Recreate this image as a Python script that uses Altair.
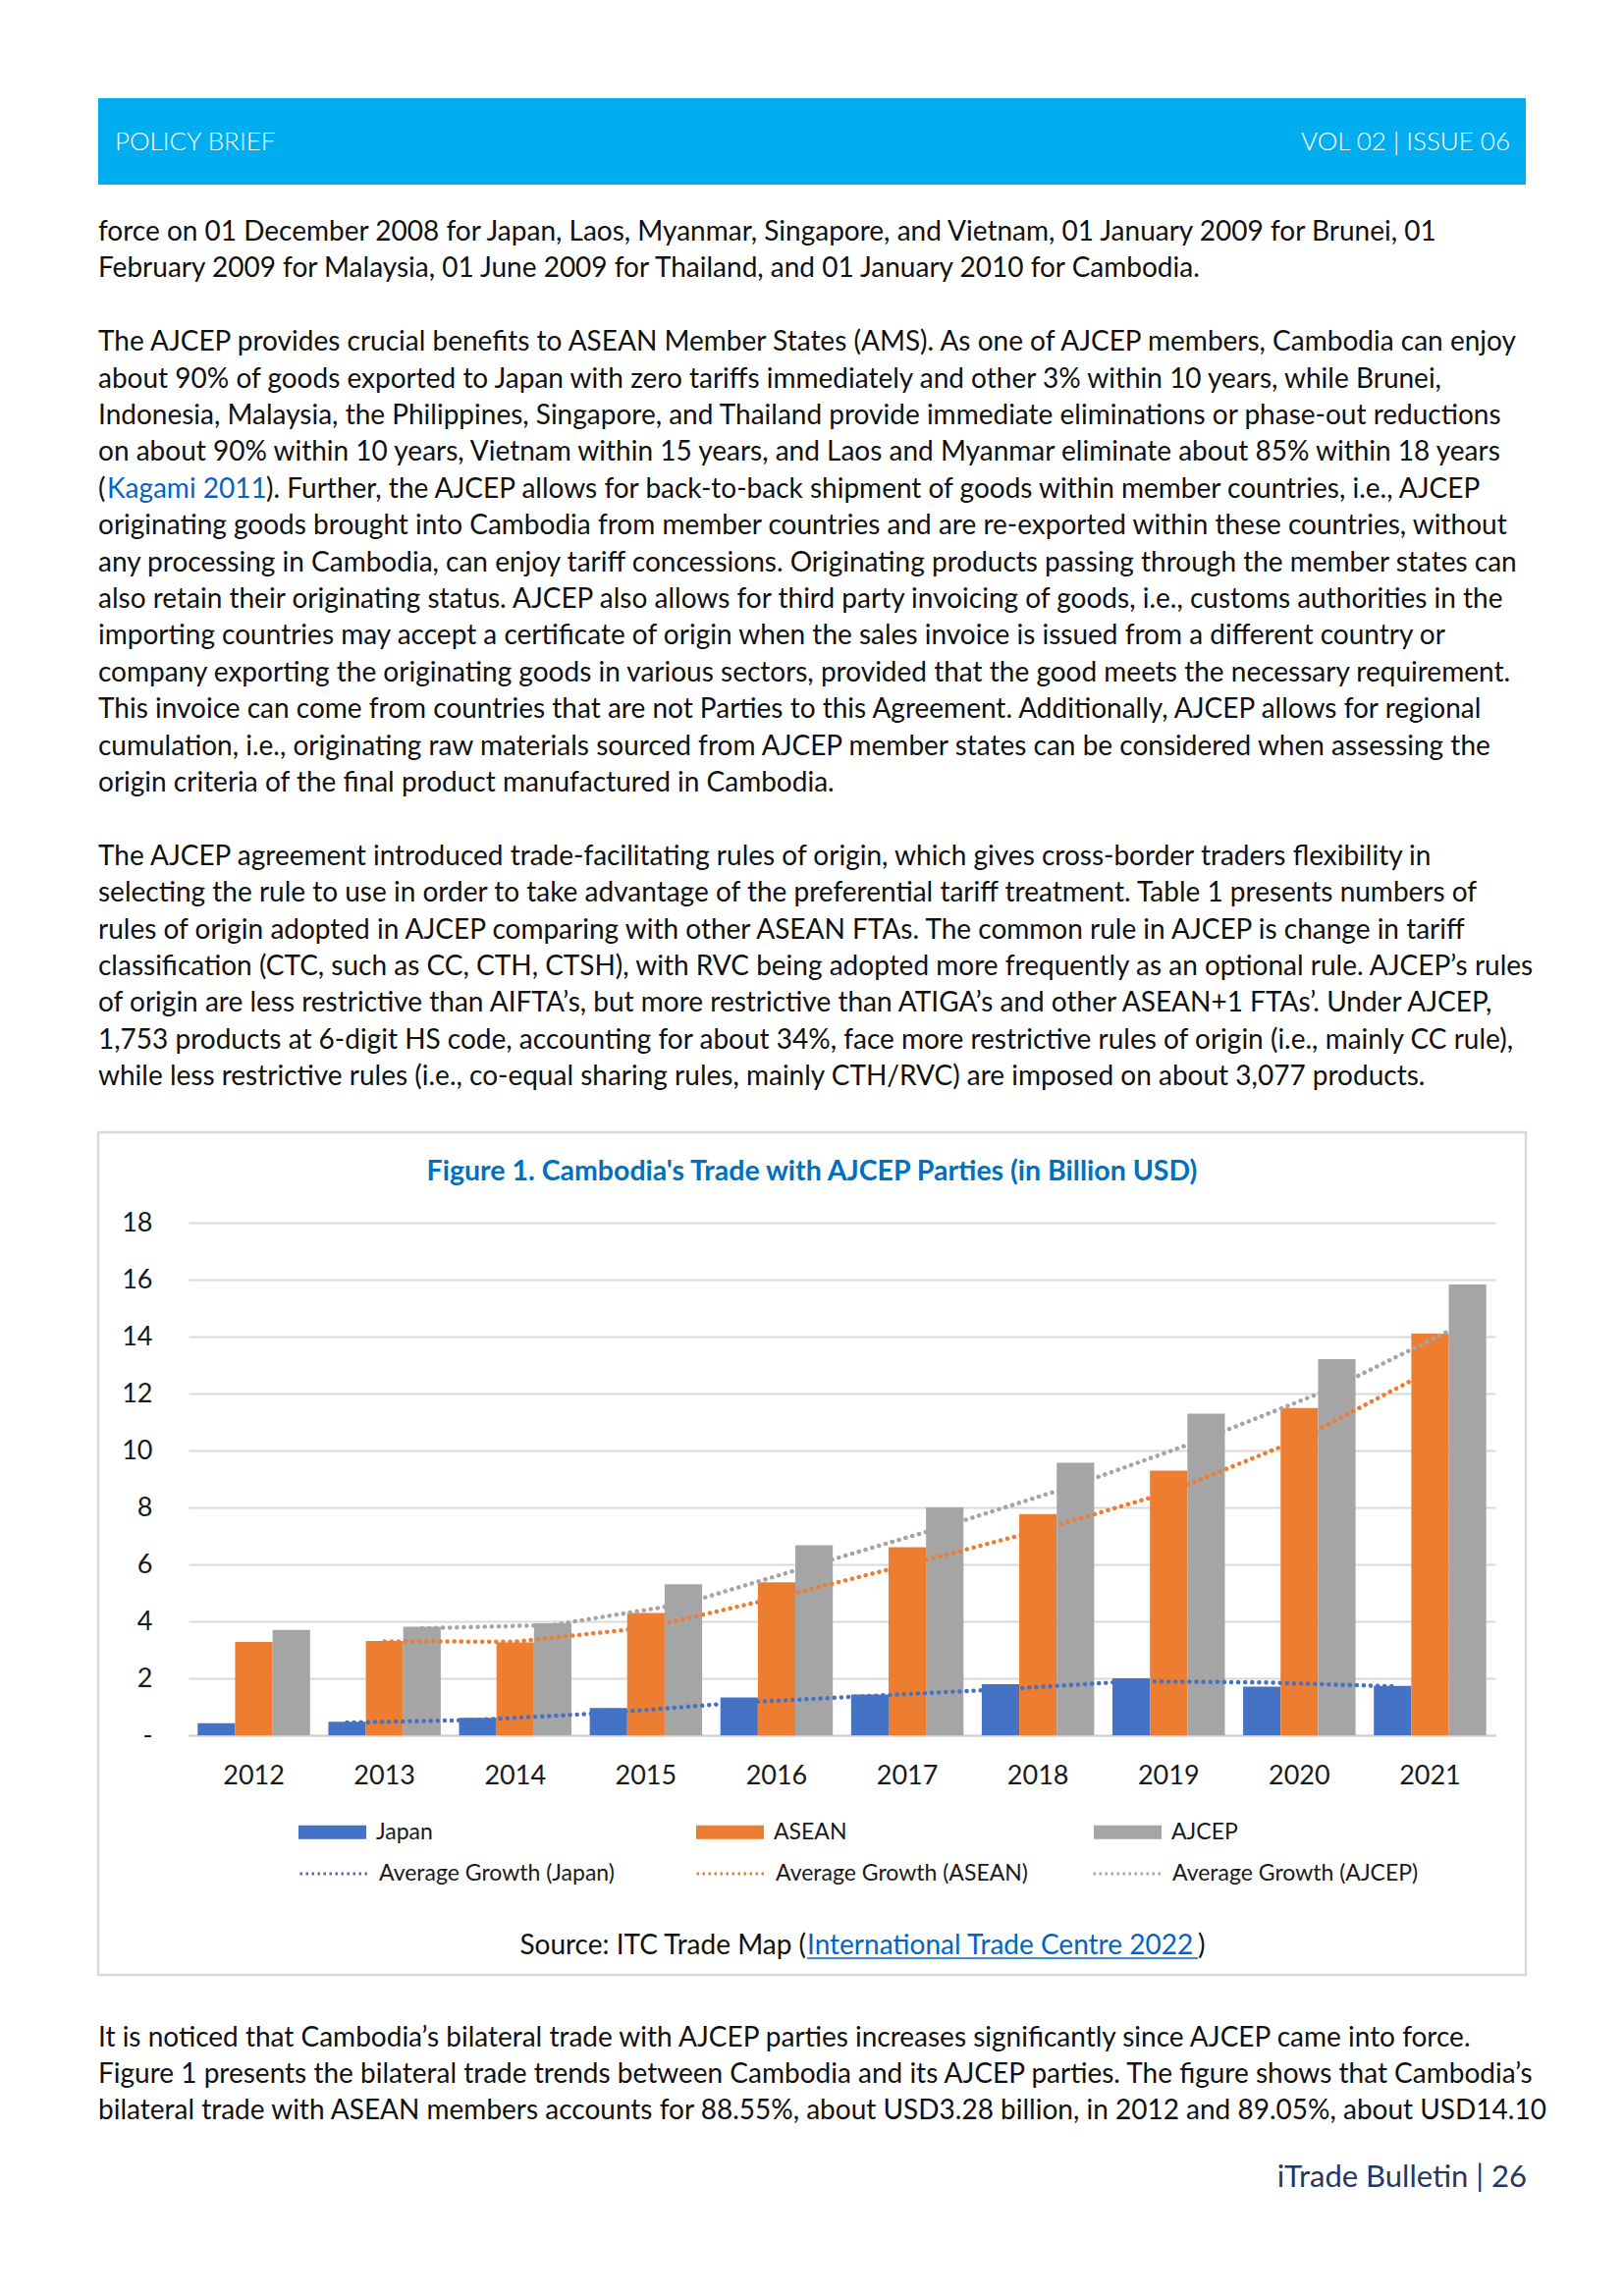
import altair as alt
import pandas as pd

# ---------------- chart data ----------------
years = ["2012", "2013", "2014", "2015", "2016", "2017", "2018", "2019", "2020", "2021"]
japan = [0.42, 0.47, 0.61, 0.96, 1.33, 1.43, 1.79, 2.00, 1.71, 1.73]
asean = [3.28, 3.31, 3.26, 4.29, 5.37, 6.60, 7.77, 9.29, 11.49, 14.10]
ajcep = [3.70, 3.81, 3.93, 5.30, 6.67, 8.00, 9.57, 11.29, 13.21, 15.83]
series_names = ["Japan", "ASEAN", "AJCEP"]
trend_names = ["Average Growth (Japan)", "Average Growth (ASEAN)", "Average Growth (AJCEP)"]
y_ticks = [0, 2, 4, 6, 8, 10, 12, 14, 16, 18]

# ---------------- page text ----------------
header_left = "POLICY BRIEF"
header_right = "VOL 02 | ISSUE 06"
chart_title = "Figure 1. Cambodia's Trade with AJCEP Parties (in Billion USD)"
source_prefix = "Source: ITC Trade Map  ("
source_link = "International Trade Centre 2022"
source_suffix = ")"
footer_text = "iTrade Bulletin | 26"

para1 = [
    "force on 01 December 2008 for Japan, Laos, Myanmar, Singapore, and Vietnam, 01 January 2009 for Brunei, 01",
    "February 2009 for Malaysia, 01 June 2009 for Thailand, and 01 January 2010 for Cambodia.",
]
para2 = [
    "The AJCEP provides crucial benefits to ASEAN Member States (AMS). As one of AJCEP members, Cambodia can enjoy",
    "about 90% of goods exported to Japan with zero tariffs immediately and other 3% within 10 years, while Brunei,",
    "Indonesia, Malaysia, the Philippines, Singapore, and Thailand provide immediate eliminations or phase-out reductions",
    "on about 90% within 10 years, Vietnam within 15 years, and Laos and Myanmar eliminate about 85% within 18 years",
    ["(", "Kagami 2011", "). Further, the AJCEP allows for back-to-back shipment of goods within member countries, i.e., AJCEP"],
    "originating goods brought into Cambodia from member countries and are re-exported within these countries, without",
    "any processing in Cambodia, can enjoy tariff concessions. Originating products passing through the member states can",
    "also retain their originating status. AJCEP also allows for third party invoicing of goods, i.e., customs authorities in the",
    "importing countries may accept a certificate of origin when the sales invoice is issued from a different country or",
    "company exporting the originating goods in various sectors, provided that the good meets the necessary requirement.",
    "This invoice can come from countries that are not Parties to this Agreement. Additionally, AJCEP allows for regional",
    "cumulation, i.e., originating raw materials sourced from AJCEP member states can be considered when assessing the",
    "origin criteria of the final product manufactured in Cambodia.",
]
para3 = [
    "The AJCEP agreement introduced trade-facilitating rules of origin, which gives cross-border traders flexibility in",
    "selecting the rule to use in order to take advantage of the preferential tariff treatment. Table 1 presents numbers of",
    "rules of origin adopted in AJCEP comparing with other ASEAN FTAs. The common rule in AJCEP is change in tariff",
    "classification (CTC, such as CC, CTH, CTSH), with RVC being adopted more frequently as an optional rule. AJCEP\u2019s rules",
    "of origin are less restrictive than AIFTA\u2019s, but more restrictive than ATIGA\u2019s and other ASEAN+1 FTAs\u2019. Under AJCEP,",
    "1,753 products at 6-digit HS code, accounting for about 34%, face more restrictive rules of origin (i.e., mainly CC rule),",
    "while less restrictive rules (i.e., co-equal sharing rules, mainly CTH/RVC) are imposed on about 3,077 products.",
]
para4 = [
    "It is noticed that Cambodia\u2019s bilateral trade with AJCEP parties increases significantly since AJCEP came into force.",
    "Figure 1 presents the bilateral trade trends between Cambodia and its AJCEP parties. The figure shows that Cambodia\u2019s",
    "bilateral trade with ASEAN members accounts for 88.55%, about USD3.28 billion, in 2012 and 89.05%, about USD14.10",
]

# ---------------- styles / layout ----------------
BAR_COLORS = ["#4472C4", "#ED7D31", "#A5A5A5"]
TEXT_C = "#111111"
LINK_C = "#0563C1"
FONT = "Lato"
BODY_SIZE = 28
W, H = 1331, 522            # plot area
X0, Y0 = 192, 1245          # plot origin on the page


def X(p):
    return p - X0


def Y(p):
    return p - Y0


one = pd.DataFrame({"k": [0]})


def page_text(txt, x, y, size=BODY_SIZE, color=TEXT_C, align="left", baseline="alphabetic", weight="normal"):
    return alt.Chart(one).mark_text(
        text=txt, font=FONT, fontSize=size, color=color, align=align, baseline=baseline, fontWeight=weight
    ).encode(x=alt.value(X(x)), y=alt.value(Y(y)))


# long table for bars
rows = []
for name, vals in zip(series_names, [japan, asean, ajcep]):
    for yr, v in zip(years, vals):
        rows.append({"year": yr, "series": name, "value": v})
df = pd.DataFrame(rows)

# body text layers (layout computed from line index)
text_layers = []
line_h = 37.4
top_block = para1 + [None] + para2 + [None] + para3
for i, line in enumerate(top_block):
    if line is None:
        continue
    yb = 245 + i * line_h
    if isinstance(line, list):
        offs = [0, 9, 171]
        cols = [TEXT_C, LINK_C, TEXT_C]
        for seg, o, c in zip(line, offs, cols):
            text_layers.append(page_text(seg, 100 + o, yb, color=c))
    else:
        text_layers.append(page_text(line, 100, yb))
for i, line in enumerate(para4):
    text_layers.append(page_text(line, 100, 2084 + i * 37.2))

# ---------------- layers ----------------
box = alt.Chart(one).mark_rect(filled=False, stroke="#D9D9D9", strokeWidth=2.5).encode(
    x=alt.value(X(100)), x2=alt.value(X(1554)), y=alt.value(Y(1153)), y2=alt.value(Y(2011))
)
header_bar = alt.Chart(one).mark_rect(fill="#00ADEF").encode(
    x=alt.value(X(100)), x2=alt.value(X(1554)), y=alt.value(Y(100)), y2=alt.value(Y(188))
)
header_l = page_text(header_left, 117, 153, size=26, color="white", weight=300)
header_r = page_text(header_right, 1538, 153, size=26, color="white", align="right", weight=300)

base = alt.Chart(df)
bars = base.mark_bar().encode(
    x=alt.X(
        "year:N", sort=years,
        scale=alt.Scale(paddingInner=0.14, paddingOuter=0.07),
        axis=alt.Axis(title=None, labelAngle=0, ticks=False, domainColor="#D0D0D0", domainWidth=2,
                      labelFont=FONT, labelFontSize=27, labelColor="#1a1a1a", labelPadding=28, grid=False),
    ),
    xOffset=alt.XOffset("series:N", sort=series_names,
                        scale=alt.Scale(domain=series_names, paddingInner=0, paddingOuter=0)),
    y=alt.Y(
        "value:Q", scale=alt.Scale(domain=[0, 18], nice=False),
        axis=alt.Axis(title=None, values=y_ticks, labelExpr="datum.value == 0 ? '-' : datum.label",
                      ticks=False, domain=False, gridColor="#D9D9D9", gridWidth=2,
                      labelFont=FONT, labelFontSize=27, labelColor="#1a1a1a", labelPadding=37),
    ),
    fill=alt.Fill(
        "series:N", scale=alt.Scale(domain=series_names, range=BAR_COLORS),
        legend=alt.Legend(title=None, orient="none", legendX=112, legendY=586, columns=3, gridAlign="all",
                          symbolType="M-1,-0.2L1,-0.2L1,0.2L-1,0.2Z", symbolSize=4761, symbolStrokeWidth=0,
                          labelFont=FONT, labelFontSize=23, labelColor="#1a1a1a", labelOffset=10,
                          labelLimit=400, columnPadding=251, padding=0),
    ),
)

lines = base.transform_window(
    ma="mean(value)", frame=[-1, 0], groupby=["series"], sort=[alt.SortField("year")]
).transform_filter("datum.year != '2012'").transform_calculate(
    trend="'Average Growth (' + datum.series + ')'"
).mark_line(strokeDash=[0.1, 7], strokeWidth=4.5, strokeCap="round").encode(
    x=alt.X("year:N", sort=years),
    xOffset=alt.XOffset("series:N", sort=series_names),
    y=alt.Y("ma:Q"),
    stroke=alt.Stroke(
        "trend:N", scale=alt.Scale(domain=trend_names, range=BAR_COLORS),
        legend=alt.Legend(title=None, orient="none", legendX=112, legendY=627, columns=3, gridAlign="all",
                          symbolType="stroke", symbolSize=4761, symbolStrokeWidth=3, symbolDash=[2.5, 3.5],
                          labelFont=FONT, labelFontSize=23, labelColor="#1a1a1a", labelOffset=10,
                          labelLimit=400, columnPadding=60, padding=0),
    ),
)

title = page_text(chart_title, 827, 1193, size=28.5, color="#0070C0", align="center", baseline="middle", weight="bold")

src_a = page_text(source_prefix, 821, 1990, size=28, align="right")
src_b = page_text(source_link, 822, 1990, size=28, color=LINK_C)
src_c = page_text(source_suffix, 1220, 1990, size=28)
src_u = alt.Chart(one).mark_rule(color=LINK_C, strokeWidth=1.5).encode(
    x=alt.value(X(822)), x2=alt.value(X(1220)), y=alt.value(Y(1994))
)

footer = page_text(footer_text, 1555, 2227, size=31, color="#1F3864", align="right")

chart = alt.layer(
    box, header_bar, header_l, header_r, bars, lines, title, src_a, src_b, src_c, src_u, footer, *text_layers
).properties(
    width=W, height=H,
    autosize=alt.AutoSizeParams(type="none"),
    padding={"left": X0 - 8, "top": Y0 - 8, "right": 1638 - (X0 - 8) - W, "bottom": 2322 - (Y0 - 8) - H},
    background="white",
).configure_view(stroke=None)

chart.save("out.html", embed_options={"renderer": "svg", "actions": False})
